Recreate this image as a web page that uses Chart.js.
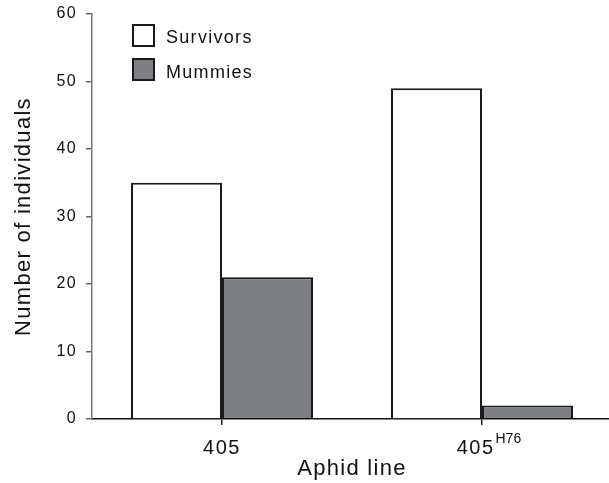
<!DOCTYPE html>
<html>
<head>
<meta charset="utf-8">
<script src="https://cdn.jsdelivr.net/npm/chart.js@4/dist/chart.umd.min.js"></script>
<style>
  html, body { margin: 0; padding: 0; overflow: hidden; background: #fff; }
</style>
</head>
<body>
<canvas id="bar-chart" width="612" height="483" style="display:block;width:612px;height:483px"></canvas>
<script>
var lines = ['405', '405'];
var lineSups = ['', 'H76'];
var survivors = [35, 49];
var mummies = [21, 2];
var yMax = 60;
var yStep = 10;

var FONT = '"Liberation Sans", Arial, Helvetica, sans-serif';
var INK = '#111';

// legend + x tick labels with superscript, drawn by hand
var extras = {
  id: 'extras',
  beforeDraw: function(chart) {
    chart.ctx.letterSpacing = '1.3px';
  },
  afterDraw: function(chart) {
    var ctx = chart.ctx;
    ctx.save();
    ctx.letterSpacing = '1.3px';
    chart.data.datasets.forEach(function(ds, i) {
      var by = 25 + i * 34;
      ctx.fillStyle = ds.backgroundColor;
      ctx.fillRect(133, by, 21, 21);
      ctx.strokeStyle = ds.borderColor;
      ctx.lineWidth = 2;
      ctx.strokeRect(133, by, 21, 21);
      ctx.fillStyle = INK;
      ctx.font = '18px ' + FONT;
      ctx.textAlign = 'left';
      ctx.textBaseline = 'alphabetic';
      ctx.fillText(ds.label, 166, 43 + i * 35);
    });

    var xs = chart.scales.x;
    lines.forEach(function(t, i) {
      var x = xs.getPixelForTick(i);
      ctx.fillStyle = INK;
      ctx.textAlign = 'left';
      ctx.textBaseline = 'alphabetic';
      ctx.letterSpacing = '1.5px';
      ctx.font = '20px ' + FONT;
      var w = ctx.measureText(t).width;
      var sw = 0;
      if (lineSups[i]) {
        ctx.font = '14px ' + FONT;
        ctx.letterSpacing = '0px';
        sw = ctx.measureText(lineSups[i]).width;
      }
      var start = x - w / 2 - sw / 4;
      ctx.font = '20px ' + FONT;
      ctx.letterSpacing = '1.5px';
      ctx.fillText(t, start, 454);
      if (lineSups[i]) {
        ctx.font = '14px ' + FONT;
        ctx.letterSpacing = '0px';
        ctx.fillText(lineSups[i], start + w + 1, 443);
      }
    });
    ctx.restore();
  }
};

var myChart = new Chart(document.getElementById('bar-chart'), {
  type: 'bar',
  data: {
    labels: lines,
    datasets: [{
        label: 'Survivors',
        data: survivors,
        backgroundColor: '#ffffff',
        borderColor: '#1a1a1a',
        borderWidth: 2,
        borderSkipped: 'start'
      }, {
        label: 'Mummies',
        data: mummies,
        backgroundColor: '#7e7f82',
        borderColor: '#1a1a1a',
        borderWidth: 2,
        borderSkipped: 'start'
      }
    ]
  },
  plugins: [extras],
  options: {
    responsive: false,
    animation: false,
    devicePixelRatio: 1,
    barPercentage: 1,
    categoryPercentage: 0.7,
    layout: { padding: { top: 14, left: 0, right: 0, bottom: 0 } },
    plugins: {
      legend: { display: false },
      tooltip: { enabled: false }
    },
    scales: {
      x: {
        grid: { drawOnChartArea: false, drawTicks: true, tickLength: 6, offset: false, color: '#222', lineWidth: 1.5 },
        border: { color: '#111', width: 1.5 },
        ticks: { display: false },
        title: {
          display: true,
          text: 'Aphid line',
          color: INK,
          font: { family: FONT, size: 22 },
          padding: { top: 1, bottom: 1 }
        },
        afterFit: function(scale) {
          scale.height = 64;
          scale.paddingLeft = 0;
          scale.paddingRight = 0;
        }
      },
      y: {
        min: 0,
        max: yMax,
        grid: { drawOnChartArea: false, drawTicks: true, tickLength: 6, color: '#666', lineWidth: 1.5 },
        border: { color: '#777', width: 1.5 },
        ticks: {
          stepSize: yStep,
          padding: 9,
          color: INK,
          font: { family: FONT, size: 16 }
        },
        title: {
          display: true,
          text: 'Number of individuals',
          color: INK,
          font: { family: FONT, size: 22 },
          padding: { top: 11, bottom: 0 }
        },
        afterFit: function(scale) {
          scale.width = 92;
          scale.paddingTop = 0;
          scale.paddingBottom = 0;
        }
      }
    }
  }
});
</script>
</body>
</html>
